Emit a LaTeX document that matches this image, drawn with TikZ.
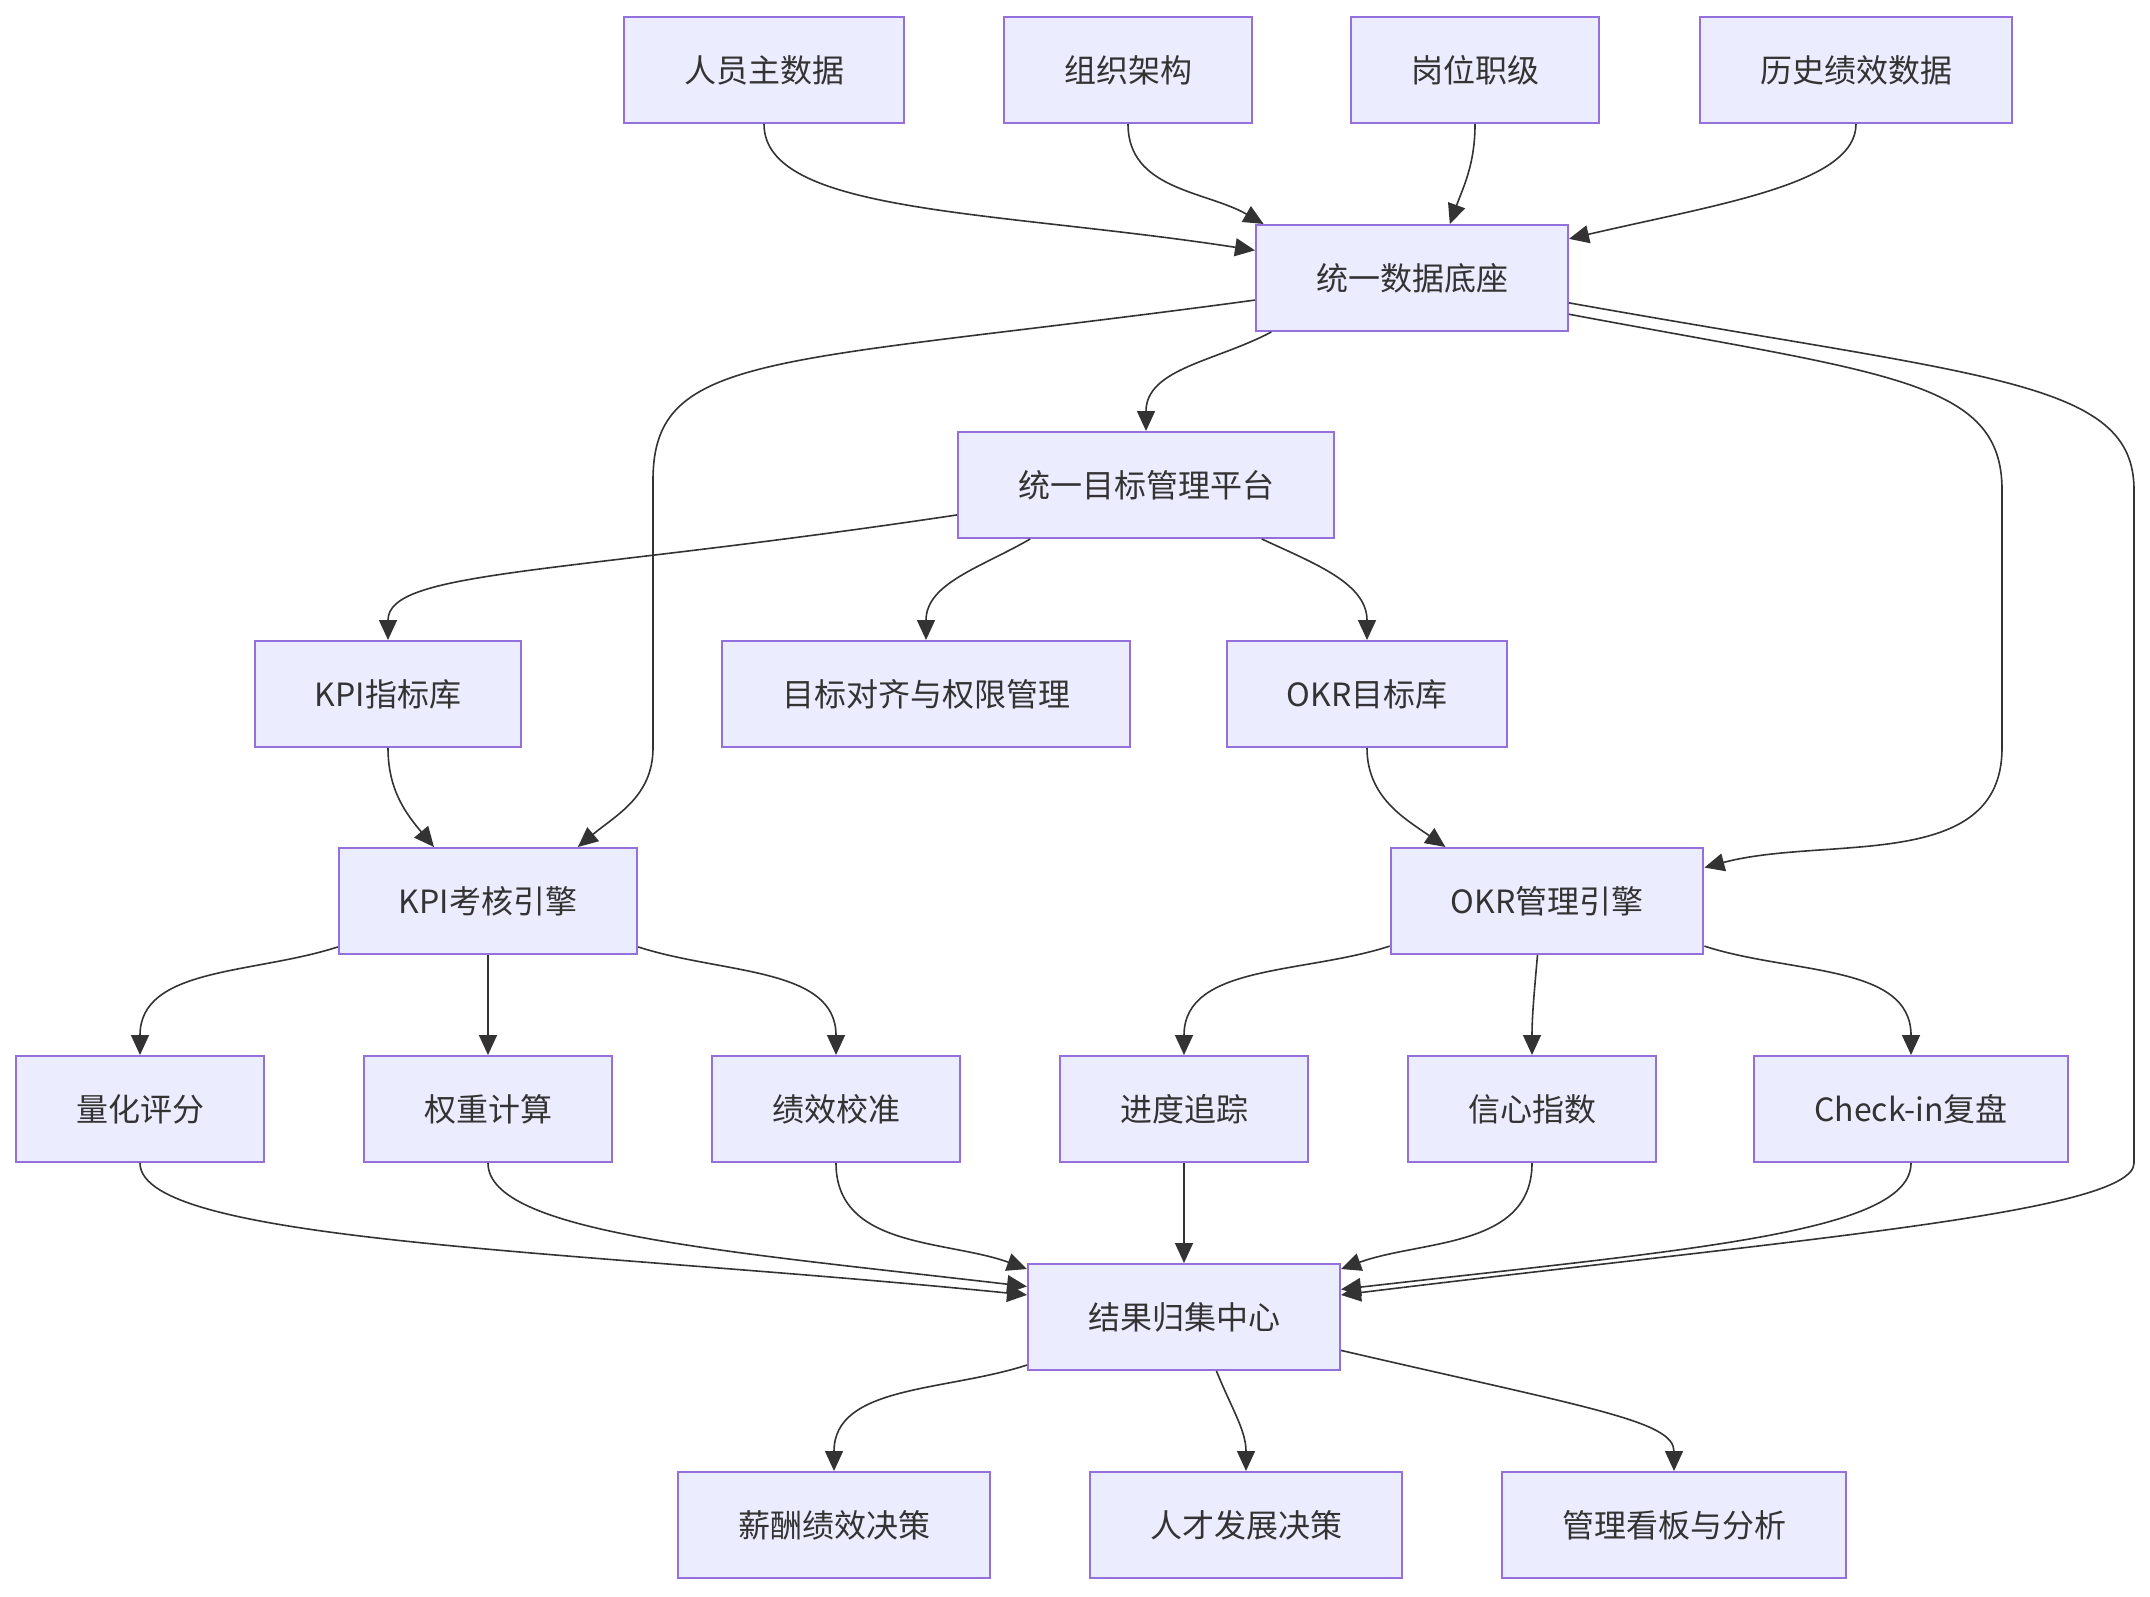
\documentclass[tikz,border=0pt]{standalone}
\usepackage{fontspec}
\setmainfont{Noto Sans CJK SC}
\usepackage{tikz}
\usetikzlibrary{arrows.meta, calc}
\definecolor{boxfill}{HTML}{ECECFF}
\definecolor{boxline}{HTML}{9370DB}
\definecolor{ink}{HTML}{333333}

\begin{document}
\begin{tikzpicture}[
  x=0.5pt, y=0.5pt,
  font=\fontsize{16pt}{20pt}\selectfont,
  >={Triangle[length=10pt, width=9pt]},
  box/.style={draw=boxline, fill=boxfill, line width=1pt, text=ink, minimum height=53pt, inner xsep=30pt, align=center},
  arr/.style={->, draw=ink, line width=0.8pt}
]
\useasboundingbox (0,0) rectangle (2150,-1596);

% sources
\node[box] (staff) at (764,-70) {人员主数据};
\node[box] (org) at (1128,-70) {组织架构};
\node[box] (rank) at (1475,-70) {岗位职级};
\node[box] (hist) at (1856,-70) {历史绩效数据};
\node[box] (base) at (1412,-278) {统一数据底座};
\node[box] (goal) at (1146,-485) {统一目标管理平台};

% libraries and engines
\node[box] (kpilib) at (388,-694) {KPI指标库};
\node[box] (align) at (926,-694) {目标对齐与权限管理};
\node[box] (okrlib) at (1367,-694) {OKR目标库};
\node[box] (kpieng) at (488,-901) {KPI考核引擎};
\node[box] (okreng) at (1547,-901) {OKR管理引擎};

\node[box] (score) at (140,-1109) {量化评分};
\node[box] (weight) at (488,-1109) {权重计算};
\node[box] (calib) at (836,-1109) {绩效校准};
\node[box] (track) at (1184,-1109) {进度追踪};
\node[box] (conf) at (1532,-1109) {信心指数};
\node[box] (check) at (1911,-1109) {Check-in复盘};

% results
\node[box] (res) at (1184,-1317) {结果归集中心};
\node[box] (pay) at (834,-1525) {薪酬绩效决策};
\node[box] (talent) at (1246,-1525) {人才发展决策};
\node[box] (board) at (1674,-1525) {管理看板与分析};

\coordinate (kbend) at (653,-480);
\coordinate (obend) at (2002,-490);
\coordinate (rbend) at (2134,-490);

\draw[arr] (staff.south) .. controls +(0,-90) and +(-260,40) .. (base.170);
\draw[arr] (org.south) to[out=-90, in=150] (base.160);
\draw[arr] (rank.south) to[out=-90, in=70] (base.55);
\draw[arr] (hist.south) .. controls +(0,-60) and +(150,35) .. (base.14);

\draw[arr] (base.188) .. controls +(-480,-65) and +(0,130) .. (kbend)
  -- (kbend |- kpilib.south) to[out=-90, in=40] (kpieng.31);
\draw[arr] (base.-159) to[out=-152, in=90] (goal.north);
\draw[arr] (base.-13) .. controls +(320,-60) and +(0,110) .. (obend)
  -- (obend |- okrlib.south) to[out=-90, in=15] (okreng.12);
\draw[arr] (base.-9) .. controls +(420,-75) and +(0,110) .. (rbend)
  -- (rbend |- check.south) .. controls +(0,-50) and +(450,55) .. (res.8);

\draw[arr] (goal.-171) .. controls +(-400,-60) and +(0,70) .. (kpilib.north);
\draw[arr] (goal.-155) to[out=-150, in=90] (align.north);
\draw[arr] (goal.-25) to[out=-25, in=90] (okrlib.north);

\draw[arr] (kpilib.south) to[out=-90, in=130] (kpieng.135);
\draw[arr] (okrlib.south) to[out=-90, in=145] (okreng.152);

\draw[arr] (kpieng.-163) to[out=-162, in=90] (score.north);
\draw[arr] (kpieng) -- (weight);
\draw[arr] (kpieng.-17) to[out=-18, in=90] (calib.north);
\draw[arr] (okreng.-164) to[out=-162, in=90] (track.north);
\draw[arr] (okreng.-100) to[out=-95, in=90] (conf.north);
\draw[arr] (okreng.-16) to[out=-18, in=90] (check.north);

\draw[arr] (score.south) .. controls +(0,-80) and +(-450,45) .. (res.172);
\draw[arr] (weight.south) .. controls +(0,-70) and +(-300,35) .. (res.169);
\draw[arr] (calib.south) to[out=-90, in=160] (res.163);
\draw[arr] (track) -- (res);
\draw[arr] (conf.south) to[out=-90, in=20] (res.17);
\draw[arr] (check.south) .. controls +(0,-70) and +(350,40) .. (res.10);

\draw[arr] (res.-163) to[out=-162, in=90] (pay.north);
\draw[arr] (res.-59) to[out=-68, in=90] (talent.north);
\draw[arr] (res.-12) .. controls +(250,-58) and +(0,50) .. (board.north);
\end{tikzpicture}
\end{document}
